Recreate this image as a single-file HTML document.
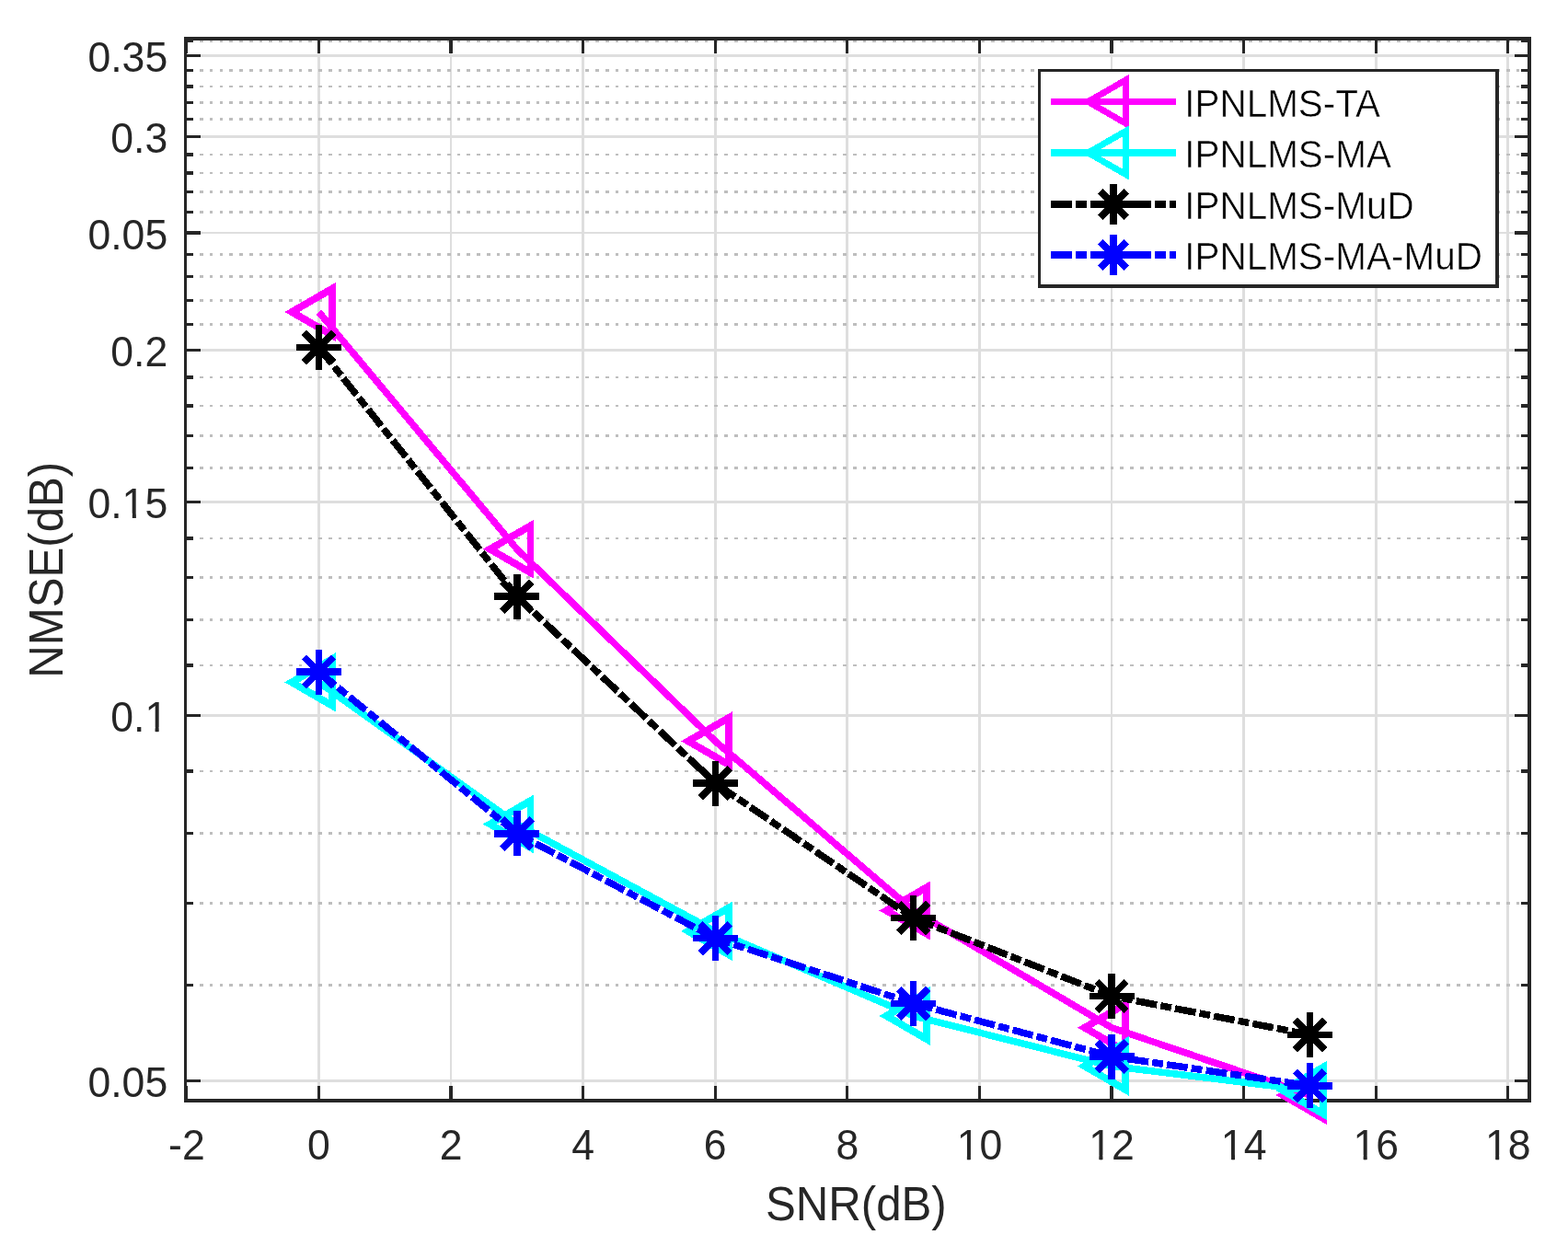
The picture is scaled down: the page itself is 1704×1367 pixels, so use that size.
<!DOCTYPE html><html><head><meta charset="utf-8"><title>NMSE vs SNR</title>
<style>html,body{margin:0;padding:0;background:#fff;}svg{display:block;}text{font-family:"Liberation Sans",Arial,Helvetica,sans-serif;}</style></head><body>
<svg width="1704" height="1367" viewBox="0 0 1704 1367">
<rect x="0" y="0" width="1704" height="1367" fill="#fff"/>
<path d="M201.85 1174.51H1661.90M201.85 777.60H1661.90M201.85 545.42H1661.90M201.85 380.69H1661.90M201.85 252.92H1661.90M201.85 148.52H1661.90M201.85 60.25H1661.90M346.45 42.00V1196.00M490.05 42.00V1196.00M633.65 42.00V1196.00M777.25 42.00V1196.00M920.85 42.00V1196.00M1064.45 42.00V1196.00M1208.05 42.00V1196.00M1351.65 42.00V1196.00M1495.25 42.00V1196.00M1638.85 42.00V1196.00" stroke="#dedede" stroke-width="2.8" fill="none" shape-rendering="crispEdges"/>
<path d="M201.85 1070.11H1661.90M201.85 981.84H1661.90M201.85 905.38H1661.90M201.85 837.93H1661.90M201.85 723.02H1661.90M201.85 673.20H1661.90M201.85 627.37H1661.90M201.85 584.93H1661.90M201.85 508.47H1661.90M201.85 473.75H1661.90M201.85 441.02H1661.90M201.85 410.06H1661.90M201.85 352.75H1661.90M201.85 326.12H1661.90M201.85 300.66H1661.90M201.85 276.29H1661.90M201.85 230.46H1661.90M201.85 208.85H1661.90M201.85 188.02H1661.90M201.85 167.93H1661.90M201.85 129.74H1661.90M201.85 111.56H1661.90M201.85 93.94H1661.90M201.85 76.85H1661.90M201.85 44.12H1661.90" stroke="#bebebe" stroke-width="2.8" stroke-dasharray="3.75 7.006" stroke-dashoffset="6.37" fill="none" shape-rendering="crispEdges"/>
<path d="M201.85 1174.51h16.2M1661.90 1174.51h-16.2M201.85 777.60h16.2M1661.90 777.60h-16.2M201.85 545.42h16.2M1661.90 545.42h-16.2M201.85 380.69h16.2M1661.90 380.69h-16.2M201.85 252.92h16.2M1661.90 252.92h-16.2M201.85 148.52h16.2M1661.90 148.52h-16.2M201.85 60.25h16.2M1661.90 60.25h-16.2M201.85 1070.11h8.0M1661.90 1070.11h-8.8M201.85 981.84h8.0M1661.90 981.84h-8.8M201.85 905.38h8.0M1661.90 905.38h-8.8M201.85 837.93h8.0M1661.90 837.93h-8.8M201.85 723.02h8.0M1661.90 723.02h-8.8M201.85 673.20h8.0M1661.90 673.20h-8.8M201.85 627.37h8.0M1661.90 627.37h-8.8M201.85 584.93h8.0M1661.90 584.93h-8.8M201.85 508.47h8.0M1661.90 508.47h-8.8M201.85 473.75h8.0M1661.90 473.75h-8.8M201.85 441.02h8.0M1661.90 441.02h-8.8M201.85 410.06h8.0M1661.90 410.06h-8.8M201.85 352.75h8.0M1661.90 352.75h-8.8M201.85 326.12h8.0M1661.90 326.12h-8.8M201.85 300.66h8.0M1661.90 300.66h-8.8M201.85 276.29h8.0M1661.90 276.29h-8.8M201.85 230.46h8.0M1661.90 230.46h-8.8M201.85 208.85h8.0M1661.90 208.85h-8.8M201.85 188.02h8.0M1661.90 188.02h-8.8M201.85 167.93h8.0M1661.90 167.93h-8.8M201.85 129.74h8.0M1661.90 129.74h-8.8M201.85 111.56h8.0M1661.90 111.56h-8.8M201.85 93.94h8.0M1661.90 93.94h-8.8M201.85 76.85h8.0M1661.90 76.85h-8.8M201.85 44.12h8.0M1661.90 44.12h-8.8M202.85 1196.00v-16.2M202.85 42.00v16.2M346.45 1196.00v-16.2M346.45 42.00v16.2M490.05 1196.00v-16.2M490.05 42.00v16.2M633.65 1196.00v-16.2M633.65 42.00v16.2M777.25 1196.00v-16.2M777.25 42.00v16.2M920.85 1196.00v-16.2M920.85 42.00v16.2M1064.45 1196.00v-16.2M1064.45 42.00v16.2M1208.05 1196.00v-16.2M1208.05 42.00v16.2M1351.65 1196.00v-16.2M1351.65 42.00v16.2M1495.25 1196.00v-16.2M1495.25 42.00v16.2M1638.85 1196.00v-16.2M1638.85 42.00v16.2" stroke="#262626" stroke-width="3.2" fill="none" shape-rendering="crispEdges"/>
<path d="M200 40H1664V44H200ZM200 1194H1664V1198H200ZM200 40H203V1198H200ZM1660 40H1664V1198H1660Z" fill="#262626" shape-rendering="crispEdges"/>
<g transform="translate(182.20 77.85) scale(1 1.035)"><text font-size="44.6" fill="#262626" text-anchor="end">0.35</text></g>
<g transform="translate(182.20 166.12) scale(1 1.035)"><text font-size="44.6" fill="#262626" text-anchor="end">0.3</text></g>
<g transform="translate(182.20 270.52) scale(1 1.035)"><text font-size="44.6" fill="#262626" text-anchor="end">0.05</text></g>
<g transform="translate(182.20 398.29) scale(1 1.035)"><text font-size="44.6" fill="#262626" text-anchor="end">0.2</text></g>
<g transform="translate(182.20 563.02) scale(1 1.035)"><text font-size="44.6" fill="#262626" text-anchor="end">0.15</text><path d="M-47.43 -4.98H-38.39V1.2H-47.43ZM-34.45 -4.98H-25.76V1.2H-34.45Z" fill="#fff"/><path d="M-38.09 -4.98H-34.75V0H-38.09Z" fill="#262626"/></g>
<g transform="translate(182.20 795.20) scale(1 1.035)"><text font-size="44.6" fill="#262626" text-anchor="end">0.1</text><path d="M-22.63 -4.98H-13.59V1.2H-22.63ZM-9.65 -4.98H-0.96V1.2H-9.65Z" fill="#fff"/><path d="M-13.29 -4.98H-9.95V0H-13.29Z" fill="#262626"/></g>
<g transform="translate(182.20 1192.11) scale(1 1.035)"><text font-size="44.6" fill="#262626" text-anchor="end">0.05</text></g>
<g transform="translate(202.85 1260.30) scale(1 1.035)"><text font-size="44.6" fill="#262626" text-anchor="middle">-2</text></g>
<g transform="translate(346.45 1260.30) scale(1 1.035)"><text font-size="44.6" fill="#262626" text-anchor="middle">0</text></g>
<g transform="translate(490.05 1260.30) scale(1 1.035)"><text font-size="44.6" fill="#262626" text-anchor="middle">2</text></g>
<g transform="translate(633.65 1260.30) scale(1 1.035)"><text font-size="44.6" fill="#262626" text-anchor="middle">4</text></g>
<g transform="translate(777.25 1260.30) scale(1 1.035)"><text font-size="44.6" fill="#262626" text-anchor="middle">6</text></g>
<g transform="translate(920.85 1260.30) scale(1 1.035)"><text font-size="44.6" fill="#262626" text-anchor="middle">8</text></g>
<g transform="translate(1064.45 1260.30) scale(1 1.035)"><text font-size="44.6" fill="#262626" text-anchor="middle">10</text><path d="M-22.63 -4.98H-13.59V1.2H-22.63ZM-9.65 -4.98H-0.96V1.2H-9.65Z" fill="#fff"/><path d="M-13.29 -4.98H-9.95V0H-13.29Z" fill="#262626"/></g>
<g transform="translate(1208.05 1260.30) scale(1 1.035)"><text font-size="44.6" fill="#262626" text-anchor="middle">12</text><path d="M-22.63 -4.98H-13.59V1.2H-22.63ZM-9.65 -4.98H-0.96V1.2H-9.65Z" fill="#fff"/><path d="M-13.29 -4.98H-9.95V0H-13.29Z" fill="#262626"/></g>
<g transform="translate(1351.65 1260.30) scale(1 1.035)"><text font-size="44.6" fill="#262626" text-anchor="middle">14</text><path d="M-22.63 -4.98H-13.59V1.2H-22.63ZM-9.65 -4.98H-0.96V1.2H-9.65Z" fill="#fff"/><path d="M-13.29 -4.98H-9.95V0H-13.29Z" fill="#262626"/></g>
<g transform="translate(1495.25 1260.30) scale(1 1.035)"><text font-size="44.6" fill="#262626" text-anchor="middle">16</text><path d="M-22.63 -4.98H-13.59V1.2H-22.63ZM-9.65 -4.98H-0.96V1.2H-9.65Z" fill="#fff"/><path d="M-13.29 -4.98H-9.95V0H-13.29Z" fill="#262626"/></g>
<g transform="translate(1638.85 1260.30) scale(1 1.035)"><text font-size="44.6" fill="#262626" text-anchor="middle">18</text><path d="M-22.63 -4.98H-13.59V1.2H-22.63ZM-9.65 -4.98H-0.96V1.2H-9.65Z" fill="#fff"/><path d="M-13.29 -4.98H-9.95V0H-13.29Z" fill="#262626"/></g>
<text transform="translate(930.3 1326.2) scale(0.98 1.035)" font-size="50.2" fill="#262626" text-anchor="middle">SNR(dB)</text>
<text transform="translate(67.9 619.3) rotate(-90) scale(0.98 1.035)" font-size="50.2" fill="#262626" text-anchor="middle">NMSE(dB)</text>
<polyline points="346.45,339.00 561.85,596.75 777.25,805.40 992.65,989.50 1208.05,1116.70 1423.45,1190.00" stroke="#ff00ff" stroke-width="7.5" fill="none" stroke-linejoin="miter" shape-rendering="crispEdges"/>
<path d="M317.12 339.00L361.12 313.60L361.12 364.40ZM532.52 596.75L576.52 571.35L576.52 622.15ZM747.92 805.40L791.92 780.00L791.92 830.80ZM963.32 989.50L1007.32 964.10L1007.32 1014.90ZM1178.72 1116.70L1222.72 1091.30L1222.72 1142.10ZM1394.12 1190.00L1438.12 1164.60L1438.12 1215.40Z" stroke="#ff00ff" stroke-width="7.9" fill="none" stroke-linejoin="miter" stroke-miterlimit="10" shape-rendering="crispEdges"/>
<polyline points="346.45,741.40 561.85,895.50 777.25,1011.90 992.65,1103.90 1208.05,1158.50 1423.45,1185.00" stroke="#00ffff" stroke-width="7.5" fill="none" stroke-linejoin="miter" shape-rendering="crispEdges"/>
<path d="M317.12 741.40L361.12 716.00L361.12 766.80ZM532.52 895.50L576.52 870.10L576.52 920.90ZM747.92 1011.90L791.92 986.50L791.92 1037.30ZM963.32 1103.90L1007.32 1078.50L1007.32 1129.30ZM1178.72 1158.50L1222.72 1133.10L1222.72 1183.90ZM1394.12 1185.00L1438.12 1159.60L1438.12 1210.40Z" stroke="#00ffff" stroke-width="7.9" fill="none" stroke-linejoin="miter" stroke-miterlimit="10" shape-rendering="crispEdges"/>
<polyline points="346.45,377.50 561.85,648.20 777.25,851.00 992.65,997.50 1208.05,1082.40 1423.45,1124.50" stroke="#000000" stroke-width="7.5" fill="none" stroke-linejoin="miter" stroke-dasharray="22.9 4.1 11.9 4.1" shape-rendering="crispEdges"/>
<path d="M321.95 377.50h49.00M346.45 353.00v49.00M330.43 361.48l32.05 32.05M330.43 393.52l32.05 -32.05M537.35 648.20h49.00M561.85 623.70v49.00M545.83 632.18l32.05 32.05M545.83 664.22l32.05 -32.05M752.75 851.00h49.00M777.25 826.50v49.00M761.23 834.98l32.05 32.05M761.23 867.02l32.05 -32.05M968.15 997.50h49.00M992.65 973.00v49.00M976.63 981.48l32.05 32.05M976.63 1013.52l32.05 -32.05M1183.55 1082.40h49.00M1208.05 1057.90v49.00M1192.03 1066.38l32.05 32.05M1192.03 1098.42l32.05 -32.05M1398.95 1124.50h49.00M1423.45 1100.00v49.00M1407.43 1108.48l32.05 32.05M1407.43 1140.52l32.05 -32.05" stroke="#000000" stroke-width="7.5" fill="none" shape-rendering="crispEdges"/>
<polyline points="346.45,730.00 561.85,905.90 777.25,1019.60 992.65,1090.40 1208.05,1148.00 1423.45,1179.80" stroke="#0000ff" stroke-width="7.5" fill="none" stroke-linejoin="miter" stroke-dasharray="22.9 4.1 11.9 4.1" shape-rendering="crispEdges"/>
<path d="M321.95 730.00h49.00M346.45 705.50v49.00M330.43 713.98l32.05 32.05M330.43 746.02l32.05 -32.05M537.35 905.90h49.00M561.85 881.40v49.00M545.83 889.88l32.05 32.05M545.83 921.92l32.05 -32.05M752.75 1019.60h49.00M777.25 995.10v49.00M761.23 1003.58l32.05 32.05M761.23 1035.62l32.05 -32.05M968.15 1090.40h49.00M992.65 1065.90v49.00M976.63 1074.38l32.05 32.05M976.63 1106.42l32.05 -32.05M1183.55 1148.00h49.00M1208.05 1123.50v49.00M1192.03 1131.98l32.05 32.05M1192.03 1164.02l32.05 -32.05M1398.95 1179.80h49.00M1423.45 1155.30v49.00M1407.43 1163.78l32.05 32.05M1407.43 1195.82l32.05 -32.05" stroke="#0000ff" stroke-width="7.5" fill="none" shape-rendering="crispEdges"/>
<rect x="1128" y="75" width="501" height="238" fill="#fff"/>
<path d="M1128 75H1629V78H1128ZM1128 309H1629V313H1128ZM1128 75H1131V313H1128ZM1625 75H1629V313H1625Z" fill="#262626" shape-rendering="crispEdges"/>
<path d="M1142 110.50H1278" stroke="#ff00ff" stroke-width="7.5" fill="none" shape-rendering="crispEdges"/>
<path d="M1182.50 110.50L1223.60 86.80L1223.60 134.20Z" stroke="#ff00ff" stroke-width="6.9" fill="none" stroke-linejoin="miter" stroke-miterlimit="10" shape-rendering="crispEdges"/>
<text transform="translate(1287.2 127.00) scale(0.997 1.062)" font-size="40.6" fill="#000" stroke="#fff" stroke-width="0.5">IPNLMS-TA</text>
<path d="M1142 166.00H1278" stroke="#00ffff" stroke-width="7.5" fill="none" shape-rendering="crispEdges"/>
<path d="M1182.50 166.00L1223.60 142.30L1223.60 189.70Z" stroke="#00ffff" stroke-width="6.9" fill="none" stroke-linejoin="miter" stroke-miterlimit="10" shape-rendering="crispEdges"/>
<text transform="translate(1287.2 182.33) scale(0.997 1.062)" font-size="40.6" fill="#000" stroke="#fff" stroke-width="0.5">IPNLMS-MA</text>
<path d="M1142 222.00H1278" stroke="#000000" stroke-width="7.5" fill="none" stroke-dasharray="22.9 4.1 11.9 4.1" shape-rendering="crispEdges"/>
<path d="M1188.00 222.00h44.00M1210.00 200.00v44.00M1195.61 207.61l28.78 28.78M1195.61 236.39l28.78 -28.78" stroke="#000000" stroke-width="7.5" fill="none" shape-rendering="crispEdges"/>
<text transform="translate(1287.2 237.66) scale(0.997 1.062)" font-size="40.6" fill="#000" stroke="#fff" stroke-width="0.5">IPNLMS-MuD</text>
<path d="M1142 277.00H1278" stroke="#0000ff" stroke-width="7.5" fill="none" stroke-dasharray="22.9 4.1 11.9 4.1" shape-rendering="crispEdges"/>
<path d="M1188.00 277.00h44.00M1210.00 255.00v44.00M1195.61 262.61l28.78 28.78M1195.61 291.39l28.78 -28.78" stroke="#0000ff" stroke-width="7.5" fill="none" shape-rendering="crispEdges"/>
<text transform="translate(1287.2 292.99) scale(0.997 1.062)" font-size="40.6" fill="#000" stroke="#fff" stroke-width="0.5">IPNLMS-MA-MuD</text>
</svg></body></html>
